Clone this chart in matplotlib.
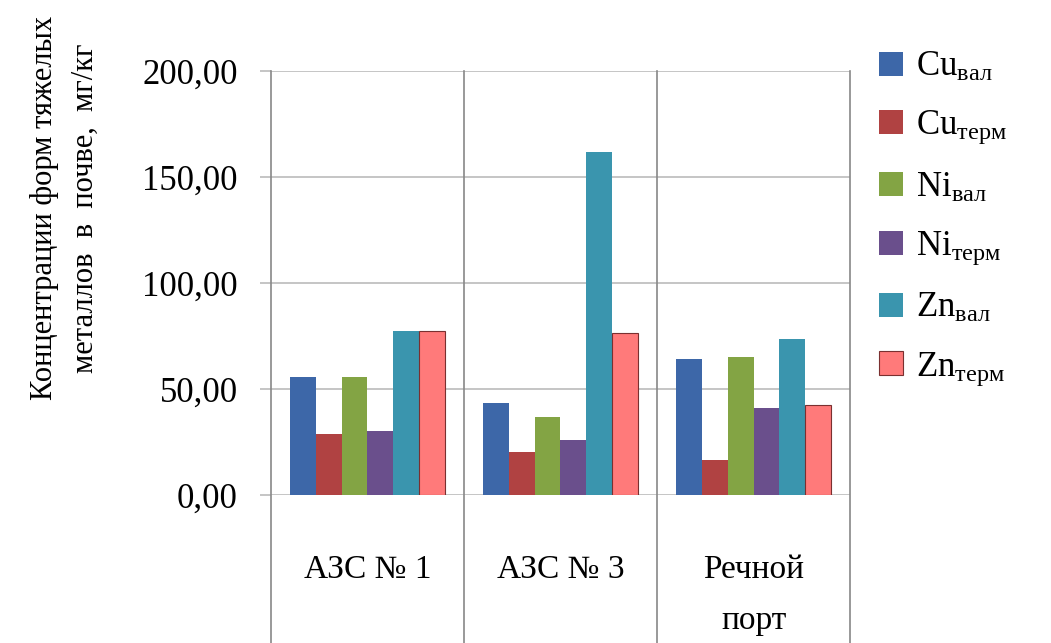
import matplotlib
matplotlib.use('Agg')
import matplotlib.pyplot as plt
import matplotlib.transforms as mtransforms
import numpy as np

plt.rcParams['font.family'] = 'serif'
plt.rcParams['font.serif'] = ['Liberation Serif', 'DejaVu Serif']
plt.rcParams['mathtext.fontset'] = 'custom'
plt.rcParams['mathtext.rm'] = 'Liberation Serif'
plt.rcParams['mathtext.it'] = 'Liberation Serif:italic'
plt.rcParams['mathtext.bf'] = 'Liberation Serif:bold'

# данные
categories = ['АЗС № 1', 'АЗС № 3', 'Речной\nпорт']
series = ['Cu$_\\mathregular{вал}$', 'Cu$_\\mathregular{терм}$',
          'Ni$_\\mathregular{вал}$', 'Ni$_\\mathregular{терм}$',
          'Zn$_\\mathregular{вал}$', 'Zn$_\\mathregular{терм}$']
cu_val = [55.8, 43.5, 64.0]
cu_term = [28.6, 20.4, 16.5]
ni_val = [55.8, 36.6, 65.2]
ni_term = [30.0, 25.9, 40.9]
zn_val = [77.5, 161.9, 73.6]
zn_term = [77.5, 76.3, 42.5]
values = [cu_val, cu_term, ni_val, ni_term, zn_val, zn_term]
colors = ['#3D67A8', '#B04242', '#83A444', '#6A4F8C', '#3A95AE', '#FF7A7A']

fig = plt.figure(figsize=(10.51, 6.43), dpi=100)
ax = fig.add_axes([0.2578, 0.2302, 0.551, 0.6594])

x = np.arange(len(categories))
w = 0.8 / len(series)
for i, (vals, c, lab) in enumerate(zip(values, colors, series)):
    ec = '#7a3030' if i == 5 else c
    ax.bar(x - 0.4 + w * (i + 0.5), vals, w, color=c, edgecolor=ec,
           linewidth=0.8 if i == 5 else 0, label=lab, zorder=3)

ax.set_xlim(-0.5, 2.5)
ax.set_ylim(0, 200)
ax.set_yticks([0, 50, 100, 150, 200])
ax.set_yticklabels(['0,00', '50,00', '100,00', '150,00', '200,00'], fontsize=25)
ax.yaxis.grid(True, color='#BBBBBB', linewidth=1.2, zorder=0)
ax.tick_params(axis='y', length=8, color='#BBBBBB', width=1.2, pad=16)
ax.set_xticks(x)
ax.set_xticklabels(categories, fontsize=24, linespacing=1.85)
ax.tick_params(axis='x', length=0, pad=43)
for s in ax.spines.values():
    s.set_visible(False)

# вертикальные разделители категорий (уходят вниз до края рисунка)
trans = mtransforms.blended_transform_factory(ax.transData, ax.transAxes)
for xv in [-0.5, 0.5, 1.5, 2.5]:
    ax.plot([xv, xv], [-0.36, 1], transform=trans, color='#888888',
            linewidth=1.2, clip_on=False, zorder=4)

fig.text(0.062, 0.676, 'Концентрации форм тяжелых\nметаллов  в  почве,  мг/кг',
         rotation=90, ha='center', va='center', multialignment='center',
         fontsize=22, linespacing=1.55)

ax.legend(loc='upper left', bbox_to_anchor=(0.82, 0.948),
          bbox_transform=fig.transFigure, frameon=False, fontsize=25,
          handlelength=0.7, handleheight=0.7, handletextpad=0.35,
          labelspacing=0.72, borderpad=0)

fig.savefig('out.png', dpi=100)
